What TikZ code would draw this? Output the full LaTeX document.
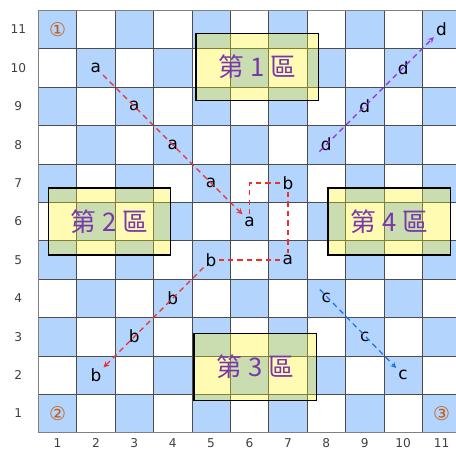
\documentclass[tikz,border=0pt]{standalone}
\usepackage{fontspec}
\setmainfont{DejaVu Sans}
\newfontfamily\cjk{Noto Sans CJK TC}
\usetikzlibrary{arrows}
\definecolor{cellblue}{RGB}{179,213,253}
\definecolor{zonetext}{RGB}{120,55,170}
\definecolor{cornertext}{RGB}{197,90,17}
\definecolor{redpath}{RGB}{240,45,45}
\definecolor{bluepath}{RGB}{30,110,230}
\definecolor{purplepath}{RGB}{150,40,230}
\tikzset{
  zone/.style={draw=black,line width=1.1pt,fill=yellow,fill opacity=0.3,text opacity=1,
    minimum width=3.18cm,minimum height=1.74cm,inner sep=0pt,text=zonetext,
    font=\fontsize{19}{22}\selectfont\cjk},
  letter/.style={inner sep=1.5pt,font=\fontsize{12.5}{14}\selectfont},
  axisnum/.style={text=black!75,font=\fontsize{9}{10}\selectfont},
  corner/.style={text=cornertext,font=\fontsize{14}{16}\selectfont},
  redline/.style={redpath,line width=0.9pt,dash pattern=on 4pt off 3pt},
  blueline/.style={bluepath,line width=0.9pt,dash pattern=on 4pt off 3pt},
  purpleline/.style={purplepath,line width=0.9pt,dash pattern=on 4pt off 3pt}
}
\begin{document}
\begin{tikzpicture}[>=stealth]
\clip(-0.997,-0.45) rectangle (10.877,11.268);
% checkerboard
\foreach \i in {1,...,11}
  \foreach \j in {1,...,11}{
    \pgfmathparse{int(mod(\i+\j,2))}
    \ifnum\pgfmathresult=0 \fill[cellblue](\i-1,\j-1) rectangle (\i,\j);\fi
  }
\draw[black!70,line width=0.55pt](0,0) grid (11,11);
\draw[black!50,line width=0.9pt](0,0) rectangle (11,11);
\foreach \i in {1,...,11}{
  \node[axisnum] (x\i) at (\i-0.5,-0.27){\i};
  \node[axisnum] (y\i) at (-0.52,\i-0.5){\i};
}
% corners
\node[corner] (k1) at (0.5,10.5){①};
\node[corner] (k2) at (0.5,0.5){②};
\node[corner] (k3) at (10.5,0.5){③};
% zones
\node[zone] (z1) at (5.70,9.52){第 1 區};
\node[zone] (z2) at (1.85,5.50){第 2 區};
\node[zone] (z3) at (5.65,1.71){第 3 區};
\node[zone] (z4) at (9.14,5.50){第 4 區};
% letters
\node[letter] (a1) at (1.5,9.5){a};
\node[letter] (a2) at (2.5,8.5){a};
\node[letter] (a3) at (3.5,7.5){a};
\node[letter] (a4) at (4.5,6.5){a};
\node[letter] (a5) at (5.5,5.5){a};
\node[letter] (a6) at (6.5,4.5){a};
\node[letter] (b1) at (6.5,6.5){b};
\node[letter] (b2) at (4.5,4.5){b};
\node[letter] (b3) at (3.5,3.5){b};
\node[letter] (b4) at (2.5,2.5){b};
\node[letter] (b5) at (1.5,1.5){b};
\node[letter] (c1) at (7.5,3.5){c};
\node[letter] (c2) at (8.5,2.5){c};
\node[letter] (c3) at (9.5,1.5){c};
\node[letter] (d1) at (7.5,7.5){d};
\node[letter] (d2) at (8.5,8.5){d};
\node[letter] (d3) at (9.5,9.5){d};
\node[letter] (d4) at (10.5,10.5){d};
\coordinate (c0) at (7.33,3.73);
\coordinate (d0) at (7.32,7.32);
% paths
\draw[redline,->](a1)--(a5);
\draw[redline](a5.north)|-(b1.west);
\draw[redline](b1.south)--(a6.north);
\draw[redline](a6.west)--(b2.east);
\draw[redline,->](b2)--(b5);
\draw[blueline,->](c0)--(c3);
\draw[purpleline,->](d0)--(d4);
\end{tikzpicture}
\end{document}
